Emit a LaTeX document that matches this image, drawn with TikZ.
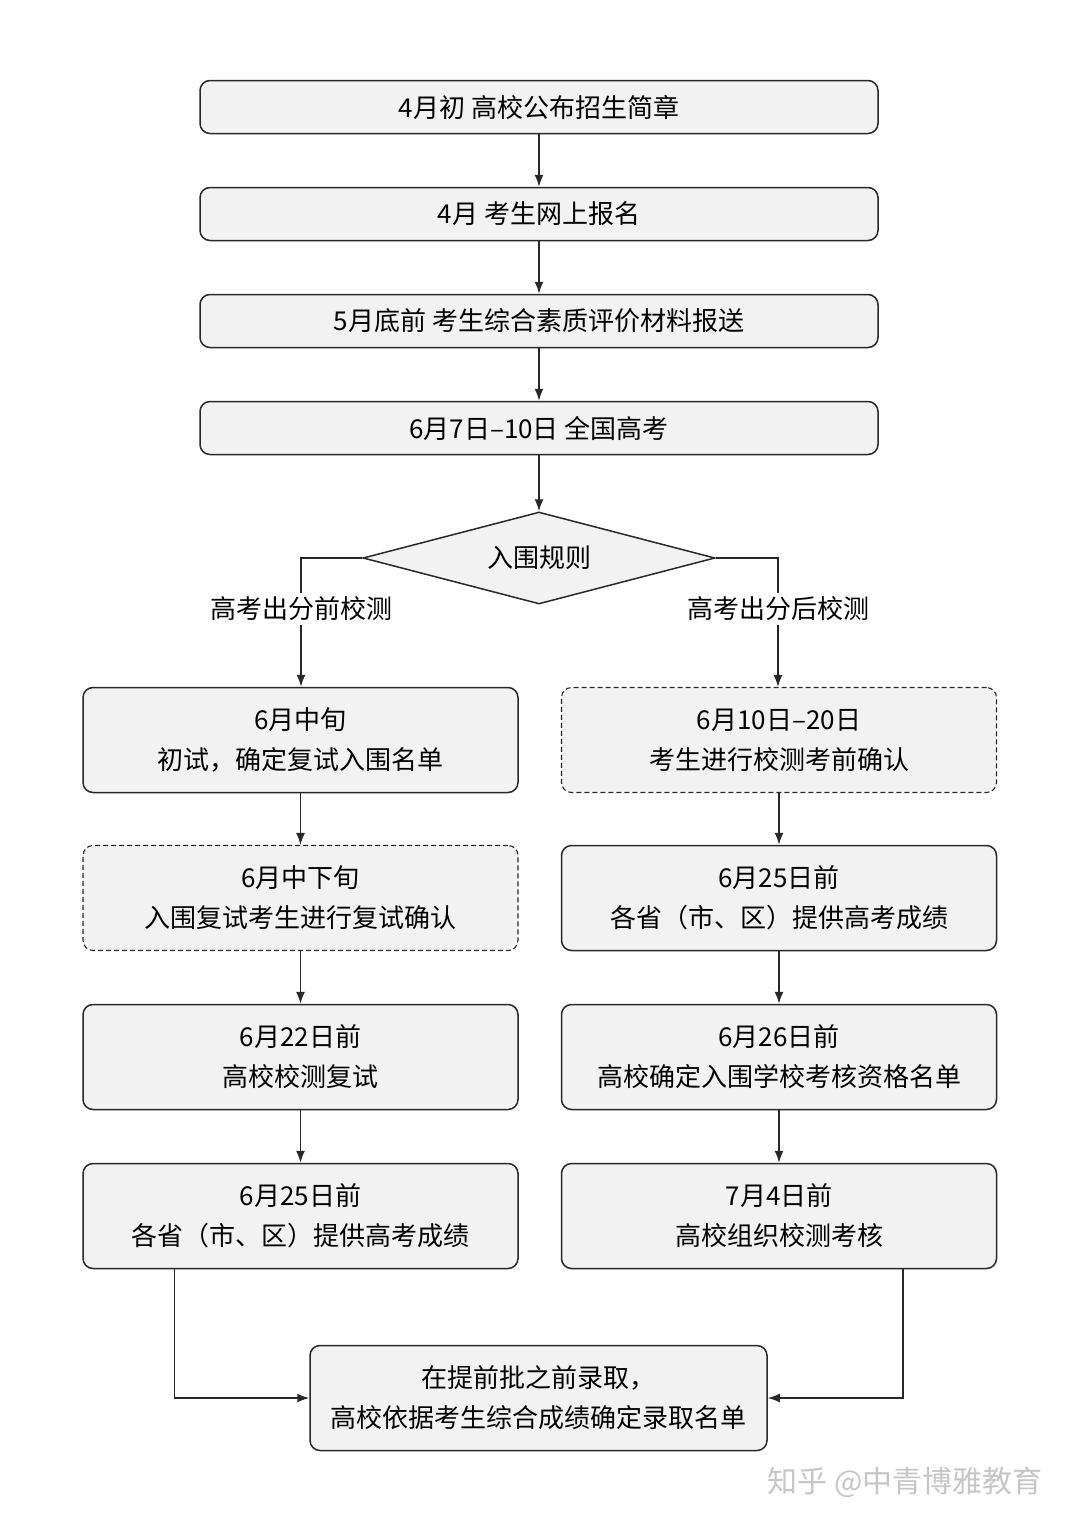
\documentclass[tikz,border=0pt]{standalone}
\usepackage{fontspec}
\newfontfamily\cjk{Noto Sans CJK SC}
\usepackage{xcolor}
\usetikzlibrary{shapes.geometric,arrows.meta}
\definecolor{boxfill}{RGB}{242,242,242}
\definecolor{boxline}{RGB}{40,40,40}

\begin{document}
\begin{tikzpicture}[x=1pt,y=-1pt]
	\tikzstyle{tx} = [font=\cjk\fontsize{26}{40}\selectfont,align=center,text=black];
	\tikzstyle{bx} = [tx,draw=boxline,fill=boxfill,rounded corners=10pt,line width=1.5pt,inner sep=0pt];
	\tikzstyle{wide} = [bx,minimum width=678pt,minimum height=53pt];
	\tikzstyle{col} = [bx,minimum width=435pt,minimum height=105pt];
	\tikzstyle{dsh} = [dash pattern=on 5pt off 3pt,line width=1.1pt];
	\tikzstyle{ln} = [draw=boxline,line width=1.5pt];
	\tikzstyle{ar} = [ln,-{Latex[length=12pt,width=9pt]}];
	\useasboundingbox (0,0) rectangle (1080,1526);
	\fill [white] (0,0) rectangle (1080,1526);
	\node (b1) at (539,107) [wide] {4月初 高校公布招生简章};
	\node (b2) at (539,214) [wide] {4月 考生网上报名};
	\node (b3) at (539,321) [wide] {5月底前 考生综合素质评价材料报送};
	\node (b4) at (539,428) [wide] {6月7日–10日 全国高考};
	\node (rule) at (539,558) [tx,diamond,aspect=3.83,draw=boxline,fill=boxfill,line width=1.5pt,minimum width=352pt,minimum height=92pt,inner sep=0pt] {入围规则};
	\node (pre) at (301,609) [tx] {高考出分前校测};
	\node (post) at (778,609) [tx] {高考出分后校测};
	\node (l1) at (300.5,740) [col] {6月中旬\\初试，确定复试入围名单};
	\node (l2) at (300.5,898) [col,dsh] {6月中下旬\\入围复试考生进行复试确认};
	\node (l3) at (300.5,1057) [col] {6月22日前\\高校校测复试};
	\node (l4) at (300.5,1216) [col] {6月25日前\\各省（市、区）提供高考成绩};
	\node (r1) at (779,740) [col,dsh] {6月10日–20日\\考生进行校测考前确认};
	\node (r2) at (779,898) [col] {6月25日前\\各省（市、区）提供高考成绩};
	\node (r3) at (779,1057) [col] {6月26日前\\高校确定入围学校考核资格名单};
	\node (r4) at (779,1216) [col] {7月4日前\\高校组织校测考核};
	\node (fin) at (538.5,1398) [col,minimum width=457pt] {在提前批之前录取，\\高校依据考生综合成绩确定录取名单};
	\node (wm) at (905,1482) [font=\cjk\fontsize{30}{30}\selectfont,text=gray!45] {知乎 @中青博雅教育};
	\draw [ar] (b1) -- (b2);
	\draw [ar] (b2) -- (b3);
	\draw [ar] (b3) -- (b4);
	\draw [ar] (b4) -- (rule);
	\draw [ln] (rule.west) -| (pre.north);
	\draw [ln] (rule.east) -| (post.north);
	\draw [ar] (pre.south) -- (pre.south |- l1.north);
	\draw [ar] (post.south) -- (post.south |- r1.north);
	\draw [ar] (l1) -- (l2);
	\draw [ar] (l2) -- (l3);
	\draw [ar] (l3) -- (l4);
	\draw [ar] (r1) -- (r2);
	\draw [ar] (r2) -- (r3);
	\draw [ar] (r3) -- (r4);
	\draw [ar] ([xshift=-126pt]l4.south) |- (fin.west);
	\draw [ar] ([xshift=124pt]r4.south) |- (fin.east);
\end{tikzpicture}
\end{document}
